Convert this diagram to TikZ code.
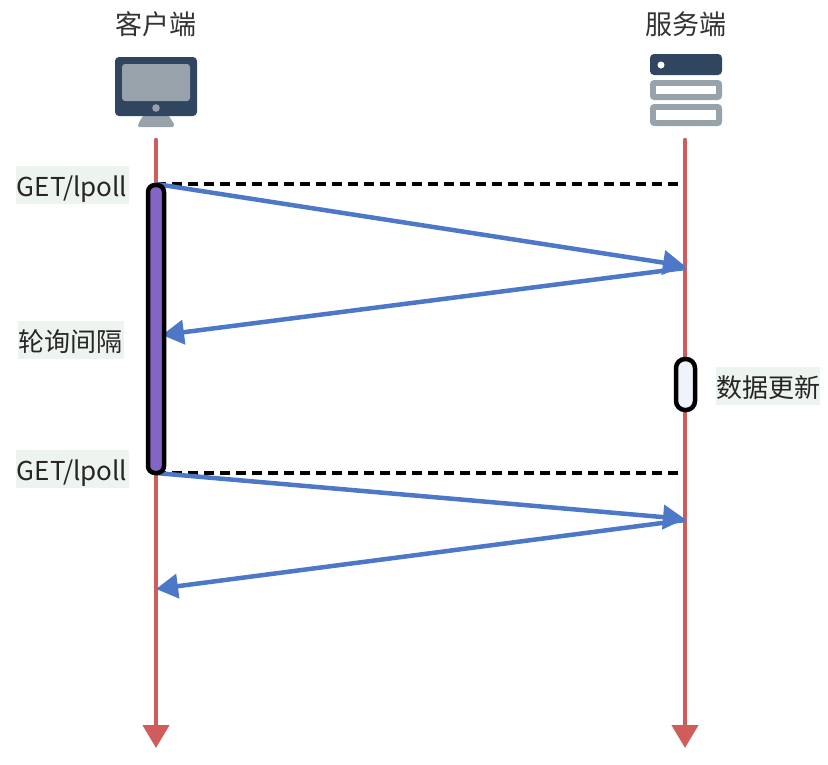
\documentclass[tikz,border=0pt]{standalone}
\usepackage{fontspec}
\setmainfont{Noto Sans CJK SC}
\usetikzlibrary{arrows.meta}
\definecolor{darkslate}{HTML}{2F4560}
\definecolor{greyslate}{HTML}{98A2AB}
\definecolor{lifered}{HTML}{D05C5C}
\definecolor{msgblue}{HTML}{4D78C8}
\definecolor{labelbg}{HTML}{EDF3EE}
\definecolor{waitpurple}{HTML}{8565C4}
\definecolor{updatebg}{HTML}{F0F3FC}
\tikzset{
  title/.style={text=black!80, font=\fontsize{27}{30}\selectfont, inner sep=0pt},
  note/.style={fill=labelbg, text=black!85, font=\fontsize{26}{30}\selectfont,
    inner sep=0pt, text height=26pt, text depth=4pt, minimum height=38},
  lifeline/.style={draw=lifered, line width=4.5pt, line cap=round, -{Triangle[length=23pt,width=26pt]}},
  message/.style={draw=msgblue, line width=4.5pt, -{Triangle[length=22pt,width=24pt]}},
  waitline/.style={draw=black, line width=4pt, dash pattern=on 10pt off 6pt},
  activation/.style={draw=black, line width=4.5pt, rounded corners=7pt}
}
\newcommand*{\MarkPoints}[1]{% #1 = list of name/x/y
  \foreach \name/\x/\y in {#1} {
    \coordinate (\name) at (\x,\y);
  }%
}

\begin{document}
\begin{tikzpicture}[x=1pt,y=-1pt]
    \useasboundingbox (0,0) rectangle (828,764);

    \MarkPoints{
        clienttop/156/140,
        clientend/156/748,
        servertop/685/140,
        serverend/685/748,
        reqastart/156/184,
        reqaend/685/266,
        resastart/685/268,
        resaend/162/335,
        reqbstart/156/473,
        reqbend/685/519,
        resbstart/685/520,
        resbend/156/589,
        waitaend/681/184,
        waitbend/681/473
    }

    % lifelines
    \draw [lifeline] (clienttop) -- (clientend);
    \draw [lifeline] (servertop) -- (serverend);

    % titles
    \node [title] (clienttitle) at (156,24) {客户端};
    \node [title] (servertitle) at (686,24) {服务端};

    % client icon
    \fill [greyslate] (143,116) -- (169,116) -- (174,124) [rounded corners=2pt] -- (174,127) -- (138,127) -- (138,124) [sharp corners] -- cycle;
    \fill [darkslate, rounded corners=4pt] (115,57) rectangle (197,116);
    \fill [greyslate, rounded corners=3pt] (122,64) rectangle (190,101);
    \fill [greyslate] (156,108) circle (3.8);

    % server icon
    \fill [darkslate, rounded corners=4pt] (650,54) rectangle (722,75);
    \fill [white] (661,65) circle (3.5);
    \foreach \top/\bottom in {80/100,104/126} {
        \fill [greyslate, rounded corners=4pt] (650,\top) rectangle (722,\bottom);
        \fill [white] (656,\top+6) rectangle (716,\bottom-6);
    }

    % dashed marks
    \draw [waitline] (reqastart) -- (waitaend);
    \draw [waitline] (reqbstart) -- (waitbend);

    % messages
    \draw [message] (reqastart) -- (reqaend);
    \draw [message] (resastart) -- (resaend);
    \draw [message] (reqbstart) -- (reqbend);
    \draw [message] (resbstart) -- (resbend);

    % activations
    \draw [activation, fill=waitpurple] (148,185) rectangle (164,473);
    \draw [activation, fill=updatebg, rounded corners=9pt] (676,359) rectangle (695,410);

    % labels
    \node [note, minimum width=113] (geta) at (72,185) {GET/lpoll};
    \node [note, minimum width=106] (interval) at (71,340) {轮询间隔};
    \node [note, minimum width=104] (update) at (768,386) {数据更新};
    \node [note, minimum width=113] (getb) at (72,469) {GET/lpoll};
\end{tikzpicture}
\end{document}
